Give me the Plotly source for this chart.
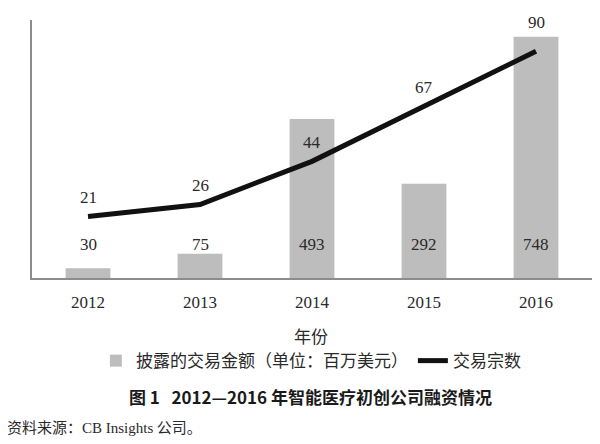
import plotly.graph_objects as go

years = ["2012", "2013", "2014", "2015", "2016"]
amount = [30, 75, 493, 292, 748]          # 披露的交易金额（百万美元）
deals = [21, 26, 44, 67, 90]              # 交易宗数

SERIF = "Liberation Serif"
CJK = "Noto Sans CJK SC"
TXT = "#2a2a2a"

fig = go.Figure()
fig.add_trace(go.Bar(
    x=years, y=amount, name="披露的交易金额（单位：百万美元）",
    marker=dict(color="#bdbdbd", line=dict(width=0)), width=0.40,
))
fig.add_trace(go.Scatter(
    x=years, y=deals, name="交易宗数", yaxis="y2", mode="lines",
    line=dict(color="#111111", width=5),
))

anns = []
for i, v in enumerate(amount):
    anns.append(dict(x=i, y=0.128, xref="x", yref="paper", text=str(v),
                     showarrow=False, font=dict(family=SERIF, size=17, color=TXT),
                     yanchor="middle"))
for i, v in enumerate(deals):
    anns.append(dict(x=i, y=v, xref="x", yref="y2", text=str(v),
                     showarrow=False, font=dict(family=SERIF, size=17, color=TXT),
                     yanchor="middle", yshift=29 if i == len(deals) - 1 else 19))
anns.append(dict(x=0.498, y=-0.221, xref="paper", yref="paper", text="年份",
                 showarrow=False, font=dict(family=CJK, size=17, color=TXT),
                 yanchor="middle"))
anns.append(dict(x=0.498, y=-0.461, xref="paper", yref="paper",
                 text="<b>图 1   2012—2016 年智能医疗初创公司融资情况</b>",
                 showarrow=False, font=dict(family=CJK, size=17, color="#1a1a1a"),
                 yanchor="middle"))
anns.append(dict(x=-0.048, y=-0.574, xref="paper", yref="paper", xanchor="left",
                 text="资料来源：<span style='font-family:Liberation Serif'>CB Insights</span> 公司。",
                 showarrow=False, font=dict(family=CJK, size=15, color=TXT),
                 yanchor="middle"))

# page body has an 8px default margin, so the figure is offset by 8px
fig.update_layout(
    width=592, height=436,
    margin=dict(l=24, r=8, t=12, b=166),
    paper_bgcolor="white", plot_bgcolor="white",
    showlegend=True,
    legend=dict(orientation="h", x=0.498, y=-0.322, xanchor="center", yanchor="middle",
                font=dict(family=CJK, size=17, color=TXT),
                itemwidth=30, tracegroupgap=0, bgcolor="rgba(0,0,0,0)"),
    xaxis=dict(type="category", range=[-0.5, len(years) - 0.5], showgrid=False,
               zeroline=False, showline=True,
               linecolor="#8c8c8c", linewidth=1.5, ticks="outside", ticklen=8,
               tickcolor="rgba(0,0,0,0)",
               tickfont=dict(family=SERIF, size=17, color=TXT)),
    yaxis=dict(range=[0, 800], showgrid=False, zeroline=False, showline=True,
               linecolor="#8c8c8c", linewidth=1.5, showticklabels=False, ticks=""),
    yaxis2=dict(range=[-4.7, 103], overlaying="y", side="right", showgrid=False,
                zeroline=False, showline=False, showticklabels=False, ticks=""),
    annotations=anns,
)

fig.write_html("out.html")
